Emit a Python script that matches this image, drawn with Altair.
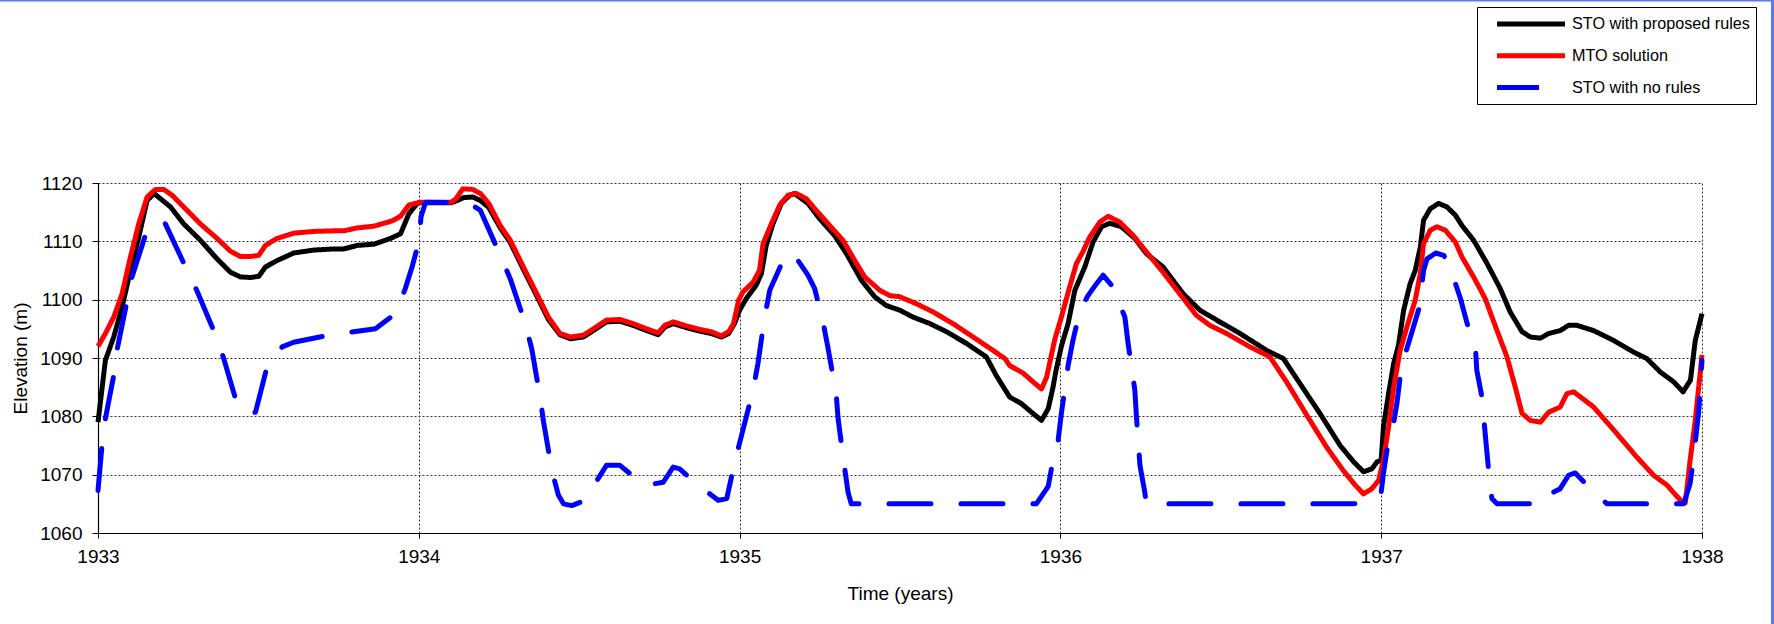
import altair as alt
import pandas as pd

SERIES = ["STO with proposed rules", "MTO solution", "STO with no rules"]
COLORS = ["#000000", "#ff0000", "#0000ff"]

# STO with proposed rules (black)
t_black = [1933.000, 1933.023, 1933.049, 1933.075, 1933.101, 1933.127, 1933.153, 1933.175, 1933.226, 1933.267,
           1933.319, 1933.371, 1933.413, 1933.444, 1933.475, 1933.501, 1933.522, 1933.558, 1933.610, 1933.673,
           1933.735, 1933.766, 1933.808, 1933.860, 1933.912, 1933.943, 1933.969, 1933.995, 1934.000, 1934.100,
           1934.120, 1934.140, 1934.168, 1934.192, 1934.218, 1934.254, 1934.285, 1934.326, 1934.368, 1934.404,
           1934.440, 1934.472, 1934.513, 1934.544, 1934.585, 1934.627, 1934.668, 1934.710, 1934.746, 1934.767,
           1934.793, 1934.834, 1934.876, 1934.912, 1934.943, 1934.966, 1934.984, 1935.000, 1935.021, 1935.052,
           1935.068, 1935.083, 1935.104, 1935.130, 1935.156, 1935.171, 1935.213, 1935.249, 1935.296, 1935.333,
           1935.380, 1935.421, 1935.457, 1935.499, 1935.541, 1935.593, 1935.645, 1935.707, 1935.769, 1935.800,
           1935.842, 1935.878, 1935.910, 1935.941, 1935.962, 1935.977, 1935.985, 1936.003, 1936.024, 1936.045,
           1936.076, 1936.102, 1936.128, 1936.154, 1936.190, 1936.232, 1936.268, 1936.320, 1936.383, 1936.435,
           1936.487, 1936.560, 1936.643, 1936.695, 1936.747, 1936.809, 1936.872, 1936.914, 1936.945, 1936.971,
           1936.987, 1937.000, 1937.007, 1937.023, 1937.039, 1937.054, 1937.070, 1937.090, 1937.106, 1937.122,
           1937.132, 1937.153, 1937.179, 1937.205, 1937.231, 1937.252, 1937.288, 1937.330, 1937.371, 1937.402,
           1937.439, 1937.465, 1937.496, 1937.522, 1937.558, 1937.584, 1937.610, 1937.662, 1937.725, 1937.787,
           1937.828, 1937.870, 1937.912, 1937.941, 1937.964, 1937.979, 1938.000]
v_black = [1079.0, 1089.6, 1093.6, 1098.7, 1105.0, 1110.7, 1117.0, 1118.2, 1115.9, 1113.0,
           1110.2, 1107.0, 1104.7, 1103.9, 1103.8, 1104.0, 1105.6, 1106.7, 1108.0, 1108.5,
           1108.7, 1108.7, 1109.3, 1109.5, 1110.5, 1111.3, 1114.7, 1116.5, 1116.6, 1116.6,
           1117.0, 1117.5, 1117.6, 1117.0, 1115.8, 1112.3, 1109.8, 1105.2, 1100.6, 1096.6,
           1094.0, 1093.3, 1093.6, 1094.7, 1096.2, 1096.3, 1095.6, 1094.7, 1094.0, 1095.3,
           1095.9, 1095.2, 1094.6, 1094.2, 1093.6, 1094.2, 1095.9, 1098.2, 1100.2, 1102.5,
           1104.5, 1109.3, 1113.0, 1116.5, 1117.9, 1118.2, 1116.5, 1113.9, 1111.0, 1107.9,
           1103.3, 1100.5, 1099.0, 1098.2, 1097.0, 1095.9, 1094.5, 1092.5, 1090.2, 1087.0,
           1083.3, 1082.2, 1080.7, 1079.3, 1081.3, 1085.0, 1087.5, 1092.0, 1095.9, 1101.6,
           1105.6, 1109.9, 1112.5, 1113.1, 1112.5, 1110.5, 1107.9, 1105.6, 1101.0, 1098.2,
           1096.5, 1094.2, 1091.3, 1089.9, 1085.6, 1080.5, 1075.0, 1072.2, 1070.5, 1071.0,
           1072.2, 1072.5, 1078.2, 1083.9, 1089.1, 1092.2, 1098.2, 1102.7, 1105.0, 1109.0,
           1113.6, 1115.6, 1116.5, 1115.9, 1114.5, 1112.7, 1110.2, 1106.2, 1101.9, 1097.9,
           1094.5, 1093.6, 1093.4, 1094.2, 1094.7, 1095.6, 1095.6, 1094.7, 1093.0, 1091.0,
           1089.9, 1087.6, 1085.9, 1084.2, 1086.2, 1093.0, 1097.6]

# MTO solution (red)
t_red = [1933.000, 1933.023, 1933.049, 1933.075, 1933.101, 1933.127, 1933.153, 1933.179, 1933.205, 1933.231,
         1933.267, 1933.319, 1933.371, 1933.413, 1933.444, 1933.475, 1933.501, 1933.522, 1933.558, 1933.610,
         1933.673, 1933.735, 1933.766, 1933.808, 1933.860, 1933.917, 1933.943, 1933.969, 1933.995, 1934.000,
         1934.101, 1934.116, 1934.137, 1934.168, 1934.192, 1934.218, 1934.254, 1934.285, 1934.326, 1934.368,
         1934.404, 1934.440, 1934.472, 1934.513, 1934.544, 1934.585, 1934.627, 1934.668, 1934.710, 1934.746,
         1934.767, 1934.793, 1934.834, 1934.876, 1934.912, 1934.943, 1934.966, 1934.981, 1934.997, 1935.010,
         1935.042, 1935.062, 1935.073, 1935.099, 1935.125, 1935.151, 1935.177, 1935.208, 1935.239, 1935.281,
         1935.322, 1935.359, 1935.390, 1935.437, 1935.468, 1935.499, 1935.551, 1935.603, 1935.665, 1935.728,
         1935.790, 1935.827, 1935.842, 1935.884, 1935.915, 1935.941, 1935.957, 1935.983, 1936.003, 1936.029,
         1936.050, 1936.070, 1936.091, 1936.123, 1936.149, 1936.185, 1936.227, 1936.268, 1936.320, 1936.372,
         1936.424, 1936.466, 1936.518, 1936.591, 1936.653, 1936.705, 1936.768, 1936.830, 1936.882, 1936.919,
         1936.945, 1936.971, 1936.992, 1937.007, 1937.023, 1937.039, 1937.059, 1937.080, 1937.106, 1937.122,
         1937.132, 1937.153, 1937.174, 1937.200, 1937.231, 1937.252, 1937.288, 1937.324, 1937.361, 1937.392,
         1937.418, 1937.439, 1937.465, 1937.496, 1937.522, 1937.558, 1937.579, 1937.600, 1937.662, 1937.735,
         1937.797, 1937.849, 1937.891, 1937.933, 1937.948, 1937.963, 1937.979, 1938.000]
v_red = [1092.0, 1094.2, 1097.0, 1101.0, 1107.3, 1113.0, 1117.6, 1118.9, 1118.9, 1117.9,
         1115.9, 1113.0, 1110.5, 1108.3, 1107.4, 1107.4, 1107.6, 1109.3, 1110.5, 1111.4,
         1111.7, 1111.8, 1111.8, 1112.3, 1112.6, 1113.5, 1114.3, 1116.2, 1116.6, 1116.7,
         1116.7, 1117.3, 1119.0, 1118.9, 1118.2, 1116.5, 1112.7, 1110.2, 1105.6, 1101.0,
         1097.0, 1094.2, 1093.6, 1093.9, 1095.0, 1096.5, 1096.6, 1095.9, 1095.0, 1094.3,
         1095.6, 1096.2, 1095.5, 1094.9, 1094.5, 1093.8, 1094.5, 1095.9, 1099.9, 1101.3,
         1103.0, 1105.0, 1109.6, 1113.0, 1116.2, 1117.9, 1118.2, 1117.3, 1115.3, 1112.7,
         1110.2, 1106.7, 1103.9, 1101.6, 1100.7, 1100.5, 1099.3, 1097.9, 1095.9, 1093.6,
         1091.3, 1089.9, 1088.7, 1087.4, 1085.9, 1084.7, 1086.7, 1093.3, 1097.0, 1102.2,
         1106.2, 1108.2, 1110.7, 1113.3, 1114.3, 1113.3, 1111.0, 1108.2, 1104.7, 1101.0,
         1097.3, 1095.6, 1094.2, 1091.9, 1090.2, 1085.9, 1080.2, 1074.7, 1070.7, 1068.2,
         1066.7, 1067.6, 1069.0, 1072.5, 1078.2, 1085.0, 1091.3, 1095.3, 1099.9, 1104.5,
         1109.6, 1111.9, 1112.5, 1111.9, 1109.9, 1107.3, 1103.9, 1100.2, 1094.7, 1090.2,
         1085.0, 1080.5, 1079.3, 1079.0, 1080.7, 1081.6, 1083.9, 1084.2, 1081.6, 1077.0,
         1073.0, 1069.9, 1068.2, 1065.6, 1065.2, 1072.5, 1079.3, 1090.5]

# STO with no rules (blue, dashed)
t_blue = [1933.000, 1933.012, 1933.020, 1933.049, 1933.059, 1933.090, 1933.106, 1933.151, 1933.180, 1933.210,
          1933.272, 1933.307, 1933.366, 1933.392, 1933.433, 1933.465, 1933.491, 1933.527, 1933.574, 1933.610,
          1933.719, 1933.797, 1933.865, 1933.927, 1933.958, 1933.979, 1934.000, 1934.007, 1934.021, 1934.155,
          1934.192, 1934.254, 1934.285, 1934.332, 1934.352, 1934.378, 1934.389, 1934.415, 1934.435, 1934.451,
          1934.477, 1934.518, 1934.539, 1934.585, 1934.627, 1934.658, 1934.710, 1934.762, 1934.793, 1934.813,
          1934.865, 1934.933, 1934.960, 1934.985, 1935.005, 1935.042, 1935.057, 1935.078, 1935.094, 1935.140,
          1935.156, 1935.171, 1935.213, 1935.234, 1935.260, 1935.275, 1935.301, 1935.307, 1935.327, 1935.338,
          1935.348, 1935.925, 1935.962, 1935.977, 1935.993, 1936.003, 1936.024, 1936.039, 1936.060, 1936.086,
          1936.112, 1936.133, 1936.159, 1936.180, 1936.201, 1936.211, 1936.232, 1936.237, 1936.248, 1936.263,
          1936.268, 1936.914, 1936.951, 1936.976, 1937.000, 1937.007, 1937.018, 1937.033, 1937.049, 1937.059,
          1937.075, 1937.096, 1937.119, 1937.132, 1937.143, 1937.170, 1937.195, 1937.216, 1937.247, 1937.268,
          1937.294, 1937.298, 1937.314, 1937.327, 1937.335, 1937.345, 1937.361, 1937.505, 1937.527, 1937.558,
          1937.584, 1937.605, 1937.652, 1937.704, 1937.943, 1937.963, 1937.974, 1937.990, 1938.000]
v_blue = [1067.3, 1074.7, 1078.7, 1087.0, 1091.3, 1099.6, 1103.9, 1111.6, 1113.5, 1113.0,
          1105.7, 1101.7, 1094.0, 1089.9, 1082.2, 1080.5, 1080.7, 1088.5, 1091.9, 1092.7,
          1093.9, 1094.5, 1095.0, 1097.6, 1101.9, 1105.6, 1109.9, 1114.2, 1116.7, 1116.6,
          1115.3, 1107.6, 1103.6, 1095.9, 1091.6, 1083.3, 1079.0, 1070.7, 1066.5, 1065.0,
          1064.7, 1065.6, 1067.6, 1071.6, 1071.6, 1070.2, 1068.2, 1068.7, 1071.3, 1071.0,
          1068.5, 1065.6, 1065.9, 1072.2, 1076.5, 1084.5, 1089.0, 1097.0, 1101.6, 1107.3,
          1108.0, 1107.6, 1104.2, 1101.9, 1096.2, 1091.9, 1083.9, 1079.6, 1071.3, 1067.0,
          1065.0, 1065.0, 1068.0, 1072.5, 1075.9, 1080.5, 1088.7, 1093.0, 1097.9, 1100.7,
          1102.7, 1104.2, 1102.5, 1099.9, 1097.0, 1092.5, 1084.5, 1080.0, 1071.6, 1067.0,
          1065.0, 1065.0, 1065.3, 1066.2, 1067.0, 1070.2, 1074.2, 1077.0, 1082.2, 1086.7,
          1090.7, 1094.5, 1098.7, 1105.0, 1107.0, 1108.0, 1107.6, 1105.3, 1100.2, 1095.9,
          1091.6, 1087.9, 1083.3, 1075.3, 1070.7, 1065.9, 1065.0, 1065.0, 1066.7, 1067.6,
          1069.9, 1070.3, 1067.6, 1065.0, 1065.0, 1068.5, 1073.0, 1081.0, 1089.6]

x_ticks = [1933, 1934, 1935, 1936, 1937, 1938]
y_ticks = [1060, 1070, 1080, 1090, 1100, 1110, 1120]

FONT = "Liberation Sans"

def frame(t, v, name):
    return pd.DataFrame({"time": t, "elev": v, "series": name})

legend_props = dict(
    title=None, orient="none", legendX=1379, legendY=-176,
    strokeColor="black", fillColor="white", padding=6, symbolOffset=37,
    symbolType="M-4,0L4,0", symbolSize=289, symbolStrokeWidth=5,
    labelFont=FONT, labelFontSize=16.2, labelColor="black", labelOffset=30,
    labelLimit=400, rowPadding=10.75,
)

color_enc = alt.Color(
    "series:N",
    scale=alt.Scale(domain=SERIES, range=COLORS),
    legend=alt.Legend(**legend_props),
)
dash_enc = alt.StrokeDash(
    "series:N",
    scale=alt.Scale(domain=SERIES, range=[[1, 0], [1, 0], [42, 30]]),
    legend=alt.Legend(**legend_props),
)

x_enc = alt.X(
    "time:Q",
    scale=alt.Scale(domain=[1933, 1938], nice=False, zero=False),
    axis=alt.Axis(values=x_ticks, format="d", tickSize=5, labelPadding=9,
                  title="Time (years)", titleX=802, titleY=51, titleBaseline="top",
                  titleAlign="center", labelFlush=False),
)
y_enc = alt.Y(
    "elev:Q",
    scale=alt.Scale(domain=[1060, 1120], nice=False, zero=False),
    axis=alt.Axis(values=y_ticks, format="d", tickSize=6, labelPadding=10,
                  title="Elevation (m)", titleX=-78, titleY=175, titleAngle=-90,
                  titleBaseline="middle", titleAlign="center"),
)

def line_layer(t, v, name, **mk):
    return alt.Chart(frame(t, v, name)).mark_line(strokeWidth=5, strokeJoin="round", **mk).encode(
        x=x_enc, y=y_enc, color=color_enc, strokeDash=dash_enc, order=alt.Order("time:Q")
    )

black = line_layer(t_black, v_black, SERIES[0])
red = line_layer(t_red, v_red, SERIES[1])
blue = line_layer(t_blue, v_blue, SERIES[2], strokeCap="round")

one = pd.DataFrame({"k": [0]})
border_top = alt.Chart(one).mark_rule(color="#5a7bef", strokeWidth=2).encode(
    x=alt.value(-98), x2=alt.value(1676), y=alt.value(-182.5)
)
border_right = alt.Chart(one).mark_rule(color="#5a7bef", strokeWidth=3).encode(
    x=alt.value(1674.5), y=alt.value(-183), y2=alt.value(441)
)

chart = alt.layer(black, red, blue, border_top, border_right).properties(
    width=1604, height=350,
    padding={"left": 98, "top": 183, "right": 72, "bottom": 91},
    autosize=alt.AutoSizeParams(type="none"),
    background="white",
).configure_view(stroke=None).configure_axis(
    labelFont=FONT, titleFont=FONT, labelFontSize=19, titleFontSize=19,
    labelColor="black", titleColor="black", titleFontWeight="normal",
    domainColor="black", domainWidth=1.2, tickColor="black", tickWidth=1,
    gridColor="#333333", gridDash=[2, 2], gridWidth=1,
)

chart.save("out.html", embed_options={"renderer": "svg", "actions": False})
